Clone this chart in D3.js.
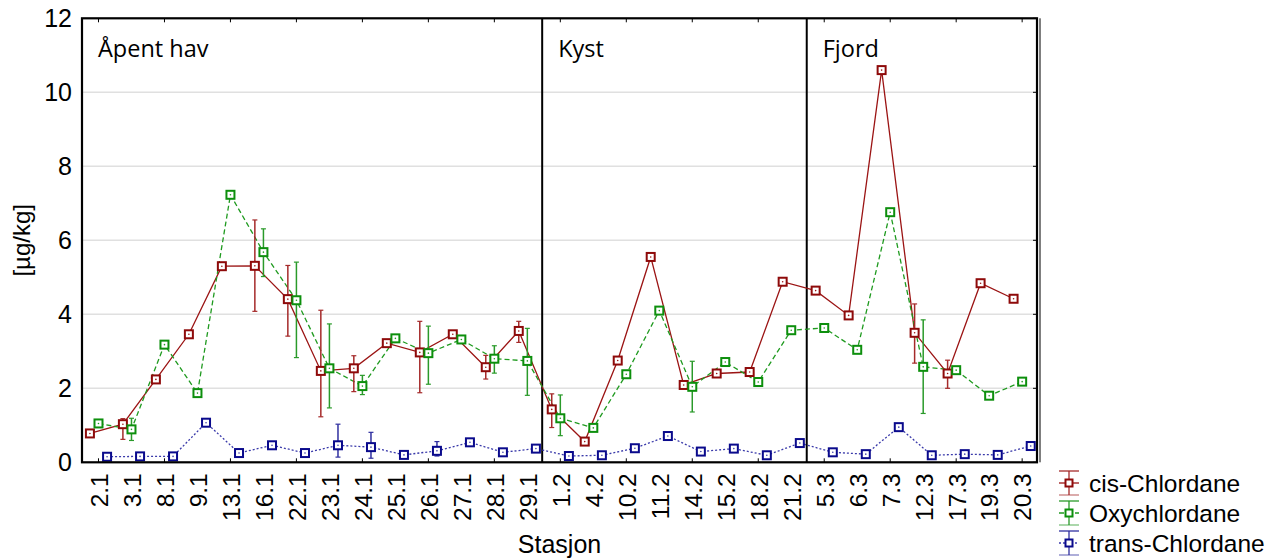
<!DOCTYPE html>
<html>
<head>
<meta charset="utf-8">
<script src="https://cdn.jsdelivr.net/npm/d3@7"></script>
<style>
  html, body { margin: 0; padding: 0; background: #fff; }
  svg { display: block; }
</style>
</head>
<body>
<svg id="chart" width="1284" height="559"></svg>
<script>
// ---------------- data ----------------
const categories = ["2.1","3.1","8.1","9.1","13.1","16.1","22.1","23.1","24.1","25.1","26.1","27.1","28.1","29.1",
  "1.2","4.2","10.2","11.2","14.2","15.2","18.2","21.2",
  "5.3","6.3","7.3","12.3","17.3","19.3","20.3"];

const cisValues   = [0.78,1.03,2.24,3.46,5.30,5.31,4.41,2.47,2.54,3.22,2.97,3.46,2.57,3.55,
  1.43,0.56,2.75,5.55,2.09,2.40,2.44,4.88,
  4.64,3.97,10.60,3.50,2.40,4.84,4.42];
const oxyValues   = [1.05,0.89,3.18,1.87,7.23,5.68,4.38,2.54,2.06,3.35,2.95,3.32,2.80,2.74,
  1.19,0.93,2.38,4.10,2.04,2.71,2.17,3.57,
  3.63,3.04,6.76,2.58,2.49,1.80,2.18];
const transValues = [0.15,0.16,0.16,1.07,0.25,0.46,0.25,0.46,0.41,0.20,0.31,0.54,0.27,0.37,
  0.17,0.19,0.38,0.71,0.29,0.37,0.19,0.52,
  0.27,0.22,0.95,0.19,0.22,0.20,0.44];

// error bars (null = none drawn)
const cisLow   = [null,0.62,null,null,null,4.08,3.41,1.23,1.91,null,1.88,null,2.25,3.24,
  0.94,null,null,null,null,null,null,null, null,null,null,2.68,2.00,null,null];
const cisHigh  = [null,1.18,null,null,null,6.55,5.32,4.11,2.88,null,3.81,null,2.89,3.81,
  1.85,null,null,null,null,null,null,null, null,null,null,4.28,2.76,null,null];
const oxyLow   = [null,0.59,null,null,null,5.02,2.83,1.47,1.83,null,2.11,null,2.41,1.81,
  0.72,null,null,null,1.36,null,null,null, null,null,null,1.32,null,null,null];
const oxyHigh  = [null,1.19,null,null,null,6.31,5.41,3.74,2.35,null,3.68,null,3.15,3.62,
  1.82,null,null,null,2.73,null,null,null, null,null,null,3.85,null,null,null];
const transLow  = [null,null,null,null,null,null,null,0.14,0.11,null,0.17,null,null,null,
  null,null,null,null,null,null,null,null, null,null,null,null,null,null,null];
const transHigh = [null,null,null,null,null,null,null,1.03,0.81,null,0.56,null,null,null,
  null,null,null,null,null,null,null,null, null,null,null,null,null,null,null];

const seriesNames = ["cis-Chlordane","Oxychlordane","trans-Chlordane"];
const yTicks = [0,2,4,6,8,10,12];
const sectionNames = ["Åpent hav","Kyst","Fjord"];
const sectionStarts = [-0.5, 13.45, 21.47];

(function () {
// ---------------- styling ----------------
const series = [
  {name: seriesNames[0], values: cisValues, low: cisLow, high: cisHigh, offset: -0.26,
   stroke:"#8e0a0a", line:"#9b1414", err:"#a52a2a", dash:null},
  {name: seriesNames[1], values: oxyValues, low: oxyLow, high: oxyHigh, offset: 0,
   stroke:"#0d8f0d", line:"#1f9a1f", err:"#2a9a2a", dash:"5,3"},
  {name: seriesNames[2], values: transValues, low: transLow, high: transHigh, offset: 0.26,
   stroke:"#0a0a8c", line:"#3a3aaa", err:"#3030a0", dash:"2,2"}
];
const sections = sectionNames.map((n, i) => ({name: n, start: sectionStarts[i]}));

const svg = d3.select("#chart");
const pLeft = 82, pRight = 1037, pTop = 18.3, pBottom = 462.3;

const x = d3.scaleLinear().domain([-0.5, 28.45]).range([pLeft, pRight]);
const y = d3.scaleLinear().domain([0, 12]).range([pBottom, pTop]);

const axisFont = "'Liberation Sans', Arial, sans-serif";

// grid lines
svg.append("g").selectAll("line").data(yTicks.filter(d => d > 0 && d < 12)).join("line")
  .attr("x1", pLeft).attr("x2", pRight)
  .attr("y1", d => y(d)).attr("y2", d => y(d))
  .attr("stroke", "#e0e0e0").attr("stroke-width", 1.5);

// section dividers
svg.append("g").selectAll("line").data(sections.slice(1)).join("line")
  .attr("x1", d => x(d.start)).attr("x2", d => x(d.start))
  .attr("y1", pTop).attr("y2", pBottom)
  .attr("stroke", "#000").attr("stroke-width", 2);

// section labels
svg.append("g").selectAll("text").data(sections).join("text")
  .attr("x", d => x(d.start) + 16)
  .attr("y", 57)
  .attr("font-family", "'Open Sans', 'Noto Sans', sans-serif")
  .attr("font-size", 23.5)
  .attr("fill", "#000")
  .text(d => d.name);

// y axis (left)
const yAxis = d3.axisLeft(y).tickValues(yTicks).tickSize(0).tickPadding(10).tickFormat(d3.format("d"));
const gy = svg.append("g").attr("transform", `translate(${pLeft},0)`).call(yAxis);
gy.select(".domain").remove();
gy.selectAll("text").attr("font-family", axisFont).attr("font-size", 25).attr("fill", "#000");

// right-side ticks
svg.append("g").selectAll("line").data(yTicks).join("line")
  .attr("x1", pRight - 4).attr("x2", pRight)
  .attr("y1", d => y(d)).attr("y2", d => y(d))
  .attr("stroke", "#000").attr("stroke-width", 1);

// x axis (bottom)
const idx = d3.range(categories.length);
const xAxis = d3.axisBottom(x).tickValues(idx).tickSize(0).tickFormat(i => categories[i]);
const gx = svg.append("g").attr("transform", `translate(0,${pBottom})`).call(xAxis);
gx.select(".domain").remove();
gx.selectAll("text")
  .attr("font-family", axisFont).attr("font-size", 24.5).attr("fill", "#000")
  .attr("text-anchor", "end")
  .attr("transform", "rotate(-90)")
  .attr("x", -11).attr("y", 0).attr("dy", "0.36em");

// inward tick marks on top and bottom at every other category
const tickIdx = idx.filter(i => i % 2 === 0);
svg.append("g").selectAll("line").data(tickIdx).join("line")
  .attr("x1", d => x(d)).attr("x2", d => x(d))
  .attr("y1", pBottom - 4).attr("y2", pBottom)
  .attr("stroke", "#000").attr("stroke-width", 1);
svg.append("g").selectAll("line").data(tickIdx).join("line")
  .attr("x1", d => x(d)).attr("x2", d => x(d))
  .attr("y1", pTop).attr("y2", pTop + 4)
  .attr("stroke", "#000").attr("stroke-width", 1);

// axis titles
svg.append("text")
  .attr("x", (pLeft + pRight) / 2).attr("y", 553)
  .attr("text-anchor", "middle")
  .attr("font-family", axisFont).attr("font-size", 25).attr("fill", "#000")
  .text("Stasjon");
svg.append("text")
  .attr("transform", `translate(30,${(pTop + pBottom) / 2}) rotate(-90)`)
  .attr("text-anchor", "middle")
  .attr("font-family", axisFont).attr("font-size", 24).attr("fill", "#000")
  .text("[µg/kg]");

// ---------------- series ----------------
const plot = svg.append("g");

series.forEach(s => {
  const line = d3.line()
    .x((d, i) => x(i + s.offset))
    .y(d => y(d));
  plot.append("path")
    .datum(s.values)
    .attr("d", line)
    .attr("fill", "none")
    .attr("stroke", s.line)
    .attr("stroke-width", 1.3)
    .attr("stroke-dasharray", s.dash);
});

series.forEach(s => {
  const errData = idx.filter(i => s.low[i] != null);
  const g = plot.append("g");
  g.selectAll("line.v").data(errData).join("line")
    .attr("class", "v")
    .attr("x1", i => x(i + s.offset)).attr("x2", i => x(i + s.offset))
    .attr("y1", i => y(s.low[i])).attr("y2", i => y(s.high[i]))
    .attr("stroke", s.err).attr("stroke-width", 1.5);
  ["low", "high"].forEach(k => {
    g.selectAll("line." + k).data(errData).join("line")
      .attr("class", k)
      .attr("x1", i => x(i + s.offset) - 2.5).attr("x2", i => x(i + s.offset) + 2.5)
      .attr("y1", i => y(s[k][i])).attr("y2", i => y(s[k][i]))
      .attr("stroke", s.err).attr("stroke-width", 1.2);
  });
});

series.forEach(s => {
  const g = plot.append("g");
  g.selectAll("rect").data(s.values).join("rect")
    .attr("x", (d, i) => x(i + s.offset) - 4)
    .attr("y", d => y(d) - 4)
    .attr("width", 8).attr("height", 8)
    .attr("fill", "#fff")
    .attr("stroke", s.stroke)
    .attr("stroke-width", 2);
  g.selectAll("circle").data(s.values).join("circle")
    .attr("cx", (d, i) => x(i + s.offset))
    .attr("cy", d => y(d))
    .attr("r", 0.8)
    .attr("fill", s.line);
});

// frame
svg.append("rect")
  .attr("x", pLeft).attr("y", pTop)
  .attr("width", pRight - pLeft).attr("height", pBottom - pTop)
  .attr("fill", "none").attr("stroke", "#000").attr("stroke-width", 2.2);
svg.append("line")
  .attr("x1", pRight + 3).attr("x2", pRight + 3)
  .attr("y1", pTop).attr("y2", pBottom)
  .attr("stroke", "#000").attr("stroke-width", 1);

// ---------------- legend ----------------
const legend = svg.append("g").attr("transform", "translate(1069,483)");
series.forEach((s, k) => {
  const g = legend.append("g").attr("transform", `translate(0,${k * 30})`);
  g.append("line").attr("x1", 0).attr("x2", 0).attr("y1", -12).attr("y2", 12)
    .attr("stroke", s.err).attr("stroke-width", 1.3);
  g.append("line").attr("x1", -10).attr("x2", 10).attr("y1", -12).attr("y2", -12)
    .attr("stroke", s.err).attr("stroke-width", 1.3);
  g.append("line").attr("x1", -10).attr("x2", 10).attr("y1", 12).attr("y2", 12)
    .attr("stroke", s.err).attr("stroke-width", 1.3).attr("opacity", 0.6);
  g.append("line").attr("x1", -10).attr("x2", 10).attr("y1", 0).attr("y2", 0)
    .attr("stroke", s.line).attr("stroke-width", 1.3).attr("stroke-dasharray", s.dash);
  g.append("rect").attr("x", -3.5).attr("y", -3.5).attr("width", 7).attr("height", 7)
    .attr("fill", "#fff").attr("stroke", s.stroke).attr("stroke-width", 2);
  g.append("text").attr("x", 20).attr("y", 0).attr("dy", "0.36em")
    .attr("font-family", axisFont).attr("font-size", 24.5).attr("fill", "#000")
    .text(s.name);
});
})();
</script>
</body>
</html>
